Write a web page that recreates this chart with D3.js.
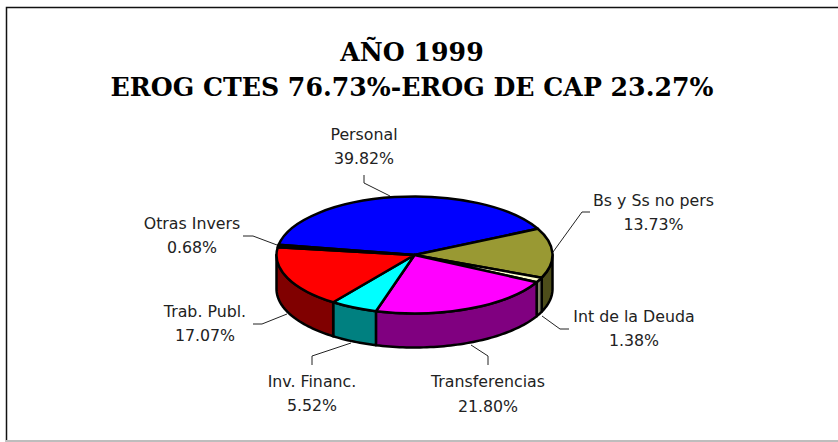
<!DOCTYPE html>
<html><head><meta charset="utf-8">
<script src="https://cdn.jsdelivr.net/npm/d3@7"></script>
<style>html,body{margin:0;padding:0;background:#fff}svg{display:block}</style></head>
<body><svg id="c" width="838" height="442"></svg>
<script>
const categories=["Personal","Bs y Ss no pers","Int de la Deuda","Transferencias","Inv. Financ.","Trab. Publ.","Otras Invers"];
const values=[39.82,13.73,1.38,21.80,5.52,17.07,0.68];
const topColors=["#0000ff","#999933","#ffffcc","#ff00ff","#00ffff","#ff0000","#000080"];
const sideColors=["#000080","#4d4d1a","#808066","#800080","#008080","#800000","#000040"];
const titleLines=["AÑO 1999","EROG CTES 76.73%-EROG DE CAP 23.27%"];
const labelAnchors=[[364,140,164],[653.5,206,230],[634,322,346],[488,387,412],[312,387,411],[205,317,341],[192,229,253]];
const leaders=[[[364,175],[364,183],[390,196]],[[590,212],[582,212],[553,252]],[[569,329],[560,329],[542,316]],[[488,365],[488,356],[471,345]],[[312,365],[312,356],[351,343]],[[253,324],[262,324],[287,314]],[[243,236],[253,236],[277,245]]];

const svg=d3.select("#c");
const cx=414.5,cy=255,rx=138,ry=58.5,depth=34;
const start=280*Math.PI/180;
const pie=d3.pie().sort(null).value(d=>d).startAngle(start).endAngle(start+2*Math.PI);
const arcs=pie(values);
const px=a=>cx+rx*Math.sin(a), py=a=>cy-ry*Math.cos(a);

// frame
svg.append("path").attr("d","M6.5,442V7.5H838").attr("fill","none").attr("stroke","#111").attr("stroke-width",1.5);
svg.append("path").attr("d","M6,441H838").attr("fill","none").attr("stroke","#bdbdbd").attr("stroke-width",2);

// leaders
svg.append("g").selectAll("path").data(leaders).join("path")
  .attr("d",d=>d3.line()(d)).attr("fill","none").attr("stroke","#222").attr("stroke-width",1);

// side walls: front half (angle between 90deg and 270deg, mod 360)
const H=Math.PI/2;
const walls=svg.append("g");
arcs.forEach((d,i)=>{
  for(const k of [-1,0,1]){
    const a0=Math.max(d.startAngle,H+k*2*Math.PI), a1=Math.min(d.endAngle,3*H+k*2*Math.PI);
    if(a1<=a0) continue;
    const n=Math.max(2,Math.ceil((a1-a0)*40));
    const s=d3.range(n+1).map(j=>a0+(a1-a0)*j/n);
    const top=s.map(a=>[px(a),py(a)]);
    const bot=s.slice().reverse().map(a=>[px(a),py(a)+depth]);
    walls.append("path").attr("d",d3.line()(top.concat(bot))+"Z")
      .attr("fill",sideColors[i]).attr("stroke","#000").attr("stroke-width",2.5).attr("stroke-linejoin","round");
  }
});

// top face
const arc=d3.arc().innerRadius(0).outerRadius(rx);
svg.append("g").attr("transform",`translate(${cx},${cy}) scale(1,${ry/rx})`)
  .selectAll("path").data(arcs).join("path").attr("d",arc)
  .attr("fill",(d,i)=>topColors[i]).attr("stroke","#000").attr("stroke-width",2.5)
  .attr("stroke-linejoin","round").attr("vector-effect","non-scaling-stroke");

// titles
svg.append("g").selectAll("text").data(titleLines).join("text")
  .attr("x",412).attr("y",(d,i)=>i?96:61).attr("text-anchor","middle")
  .attr("font-family","'DejaVu Serif'").attr("font-weight","bold").attr("font-size",25.2).attr("fill","#000").text(d=>d);

// labels
const lab=svg.append("g").attr("font-family","'DejaVu Sans'").attr("font-size",15.8).attr("fill","#222").attr("text-anchor","middle");
categories.forEach((c,i)=>{
  const [x,y1,y2]=labelAnchors[i];
  lab.append("text").attr("x",x).attr("y",y1).text(c);
  lab.append("text").attr("x",x).attr("y",y2).text(values[i].toFixed(2)+"%");
});
</script></body></html>
